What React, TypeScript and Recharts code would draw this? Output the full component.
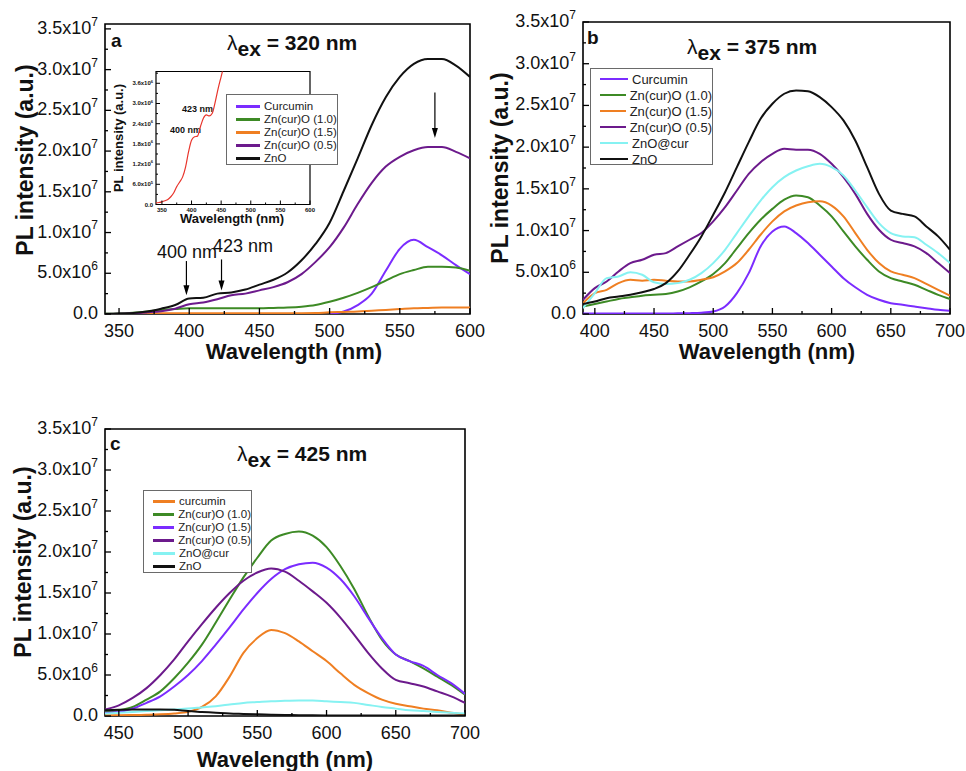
import React from 'react';
import {LineChart, Line, XAxis, YAxis, Legend, ReferenceArea, ReferenceLine} from 'recharts';

const FONT = '"Liberation Sans", Arial, Helvetica, sans-serif';

// ---- panel a : excitation 320 nm ----
const wlA = [340, 350, 360, 370, 380, 390, 400, 410, 420, 430, 440, 450, 460, 470, 480, 490, 500, 510, 520, 530, 540, 550, 560, 570, 580, 590, 600];
const aCurcumin = [null, null, null, null, null, null, null, null, null, null, null, null, null, null, null, null,
  0, 0.3e6, 1.1e6, 2.5e6, 5.3e6, 8.0e6, 9.1e6, 8.2e6, 7.2e6, 6.0e6, 4.9e6];
const aZn10 = [0.02e6, 0.05e6, 0.15e6, 0.3e6, 0.5e6, 0.6e6, 0.7e6, 0.7e6, 0.7e6, 0.7e6, 0.7e6, 0.7e6, 0.75e6, 0.8e6, 0.9e6, 1.1e6, 1.5e6, 2.0e6, 2.6e6, 3.3e6, 4.1e6, 4.9e6, 5.4e6, 5.8e6, 5.8e6, 5.7e6, 5.3e6];
const aZn15 = [0, 0, 0.02e6, 0.05e6, 0.08e6, 0.08e6, 0.1e6, 0.1e6, 0.1e6, 0.1e6, 0.1e6, 0.1e6, 0.1e6, 0.1e6, 0.1e6, 0.12e6, 0.2e6, 0.25e6, 0.3e6, 0.4e6, 0.5e6, 0.6e6, 0.7e6, 0.75e6, 0.8e6, 0.8e6, 0.8e6];
const aZn05 = [0, 0.02e6, 0.08e6, 0.2e6, 0.35e6, 0.65e6, 1.2e6, 1.4e6, 1.8e6, 2.3e6, 2.5e6, 2.9e6, 3.3e6, 3.9e6, 4.9e6, 6.4e6, 8.2e6, 10.6e6, 13.5e6, 16.1e6, 18.1e6, 19.3e6, 20.1e6, 20.5e6, 20.5e6, 19.9e6, 19.1e6];
const aZnO = [0.02e6, 0.05e6, 0.12e6, 0.3e6, 0.65e6, 1.1e6, 1.9e6, 2.0e6, 2.5e6, 2.65e6, 3.0e6, 3.6e6, 4.2e6, 5.1e6, 6.6e6, 8.6e6, 11.2e6, 15.1e6, 19.1e6, 23.2e6, 26.6e6, 29.1e6, 30.7e6, 31.3e6, 31.3e6, 30.5e6, 29.1e6];

// inset of panel a (ZnO, low wavelength)
const wlInset = [340, 345, 350, 355, 360, 365, 370, 375, 380, 385, 390, 395, 400, 405, 410, 415, 420, 425, 430, 435, 440, 445, 450, 455];
const insetZnO = [0.05e6, 0.06e6, 0.08e6, 0.11e6, 0.15e6, 0.23e6, 0.35e6, 0.53e6, 0.67e6, 0.82e6, 1.12e6, 1.57e6, 1.91e6, 2.01e6, 2.03e6, 2.31e6, 2.56e6, 2.66e6, 2.63e6, 2.71e6, 3.05e6, 3.45e6, 3.8e6, 4.15e6];

// ---- panel b : excitation 375 nm ----
const wlB = [390, 400, 410, 420, 430, 440, 450, 460, 470, 480, 490, 500, 510, 520, 530, 540, 550, 560, 570, 580, 590, 600, 610, 620, 630, 640, 650, 660, 670, 680, 690, 700];
const bCurcumin = [0.05e6, 0.05e6, 0.05e6, 0.05e6, 0.05e6, 0.05e6, 0.05e6, 0.05e6, 0.08e6, 0.1e6, 0.15e6, 0.3e6, 0.9e6, 2.5e6, 4.9e6, 8.1e6, 9.9e6, 10.5e6, 9.7e6, 8.5e6, 7.1e6, 5.7e6, 4.3e6, 3.2e6, 2.3e6, 1.7e6, 1.3e6, 1.1e6, 0.9e6, 0.7e6, 0.5e6, 0.4e6];
const bZn10 = [0.9e6, 1.2e6, 1.5e6, 1.8e6, 2.0e6, 2.2e6, 2.3e6, 2.4e6, 2.7e6, 3.2e6, 3.9e6, 4.8e6, 6.1e6, 7.9e6, 9.7e6, 11.3e6, 12.6e6, 13.7e6, 14.2e6, 14.0e6, 13.0e6, 11.7e6, 9.9e6, 8.1e6, 6.5e6, 5.1e6, 4.3e6, 3.9e6, 3.5e6, 2.9e6, 2.3e6, 1.8e6];
const bZn15 = [1.3e6, 2.5e6, 2.9e6, 3.7e6, 4.1e6, 4.0e6, 4.1e6, 4.0e6, 3.9e6, 3.9e6, 4.1e6, 4.4e6, 5.1e6, 6.1e6, 7.7e6, 9.5e6, 11.1e6, 12.3e6, 13.0e6, 13.4e6, 13.5e6, 13.0e6, 11.7e6, 9.7e6, 7.7e6, 6.1e6, 5.1e6, 4.7e6, 4.3e6, 3.6e6, 2.9e6, 2.2e6];
const bZn05 = [1.7e6, 3.1e6, 3.9e6, 5.1e6, 6.1e6, 6.5e6, 7.1e6, 7.3e6, 8.1e6, 8.9e6, 9.7e6, 11.1e6, 12.8e6, 14.8e6, 16.8e6, 18.2e6, 19.2e6, 19.8e6, 19.7e6, 19.7e6, 19.2e6, 18.0e6, 16.4e6, 14.4e6, 12.0e6, 10.1e6, 8.9e6, 8.5e6, 8.1e6, 7.3e6, 6.1e6, 4.9e6];
const bZnOcur = [0.7e6, 2.5e6, 4.3e6, 4.5e6, 5.0e6, 4.7e6, 3.8e6, 3.6e6, 3.7e6, 4.1e6, 4.9e6, 6.1e6, 7.7e6, 9.7e6, 11.7e6, 13.6e6, 15.2e6, 16.4e6, 17.2e6, 17.7e6, 18.0e6, 17.6e6, 16.6e6, 14.8e6, 12.8e6, 10.9e6, 9.7e6, 9.3e6, 9.2e6, 8.3e6, 7.3e6, 6.1e6];
const bZnO = [1.2e6, 1.5e6, 1.9e6, 2.1e6, 2.3e6, 2.6e6, 3.0e6, 3.7e6, 5.1e6, 7.1e6, 9.3e6, 11.9e6, 14.6e6, 17.6e6, 20.6e6, 23.4e6, 25.2e6, 26.4e6, 26.8e6, 26.7e6, 26.0e6, 24.8e6, 23.2e6, 20.8e6, 17.6e6, 14.4e6, 12.4e6, 12.0e6, 11.7e6, 10.5e6, 9.3e6, 7.7e6];

// ---- panel c : excitation 425 nm ----
const wlC = [440, 450, 460, 470, 480, 490, 500, 510, 520, 530, 540, 550, 560, 570, 580, 590, 600, 610, 620, 630, 640, 650, 660, 670, 680, 690, 700];
const cCurcumin = [0.1e6, 0.1e6, 0.12e6, 0.15e6, 0.2e6, 0.3e6, 0.5e6, 1.1e6, 2.4e6, 4.8e6, 7.7e6, 9.5e6, 10.5e6, 10.1e6, 9.1e6, 7.9e6, 6.7e6, 5.2e6, 3.8e6, 2.8e6, 2.0e6, 1.5e6, 1.2e6, 0.9e6, 0.7e6, 0.4e6, 0.2e6];
const cZn10 = [0.5e6, 0.7e6, 1.1e6, 2.0e6, 3.0e6, 4.6e6, 6.5e6, 8.7e6, 11.4e6, 14.2e6, 16.9e6, 19.3e6, 21.4e6, 22.2e6, 22.5e6, 22.0e6, 20.6e6, 18.3e6, 15.5e6, 12.2e6, 9.3e6, 7.5e6, 6.7e6, 5.8e6, 4.8e6, 3.8e6, 2.6e6];
const cZn15 = [0.4e6, 0.5e6, 0.9e6, 1.6e6, 2.4e6, 3.6e6, 5.0e6, 6.7e6, 8.7e6, 10.8e6, 13.0e6, 15.0e6, 16.7e6, 17.9e6, 18.5e6, 18.7e6, 18.1e6, 16.7e6, 14.6e6, 12.0e6, 9.5e6, 7.5e6, 6.7e6, 6.1e6, 5.0e6, 4.0e6, 2.7e6];
const cZn05 = [0.8e6, 1.3e6, 2.2e6, 3.4e6, 5.0e6, 6.9e6, 9.1e6, 11.2e6, 13.2e6, 15.0e6, 16.5e6, 17.5e6, 18.0e6, 17.6e6, 16.5e6, 15.2e6, 13.8e6, 12.0e6, 9.9e6, 7.7e6, 5.8e6, 4.4e6, 4.0e6, 3.6e6, 3.0e6, 2.4e6, 1.6e6];
const cZnOcur = [0.3e6, 0.4e6, 0.5e6, 0.6e6, 0.7e6, 0.8e6, 0.9e6, 1.05e6, 1.2e6, 1.4e6, 1.6e6, 1.7e6, 1.8e6, 1.85e6, 1.9e6, 1.9e6, 1.8e6, 1.7e6, 1.6e6, 1.35e6, 1.1e6, 0.9e6, 0.7e6, 0.6e6, 0.5e6, 0.4e6, 0.3e6];
const cZnO = [0.7e6, 0.75e6, 0.8e6, 0.8e6, 0.8e6, 0.75e6, 0.6e6, 0.5e6, 0.4e6, 0.3e6, 0.25e6, 0.2e6, 0.15e6, 0.12e6, 0.1e6, 0.08e6, 0.06e6, 0.05e6, 0.05e6, 0.05e6, 0.05e6, 0.05e6, 0.05e6, 0.05e6, 0.05e6, 0.05e6, 0.05e6];

// ticks
const xTicksA = [350, 375, 400, 425, 450, 475, 500, 525, 550, 575, 600];
const xTicksB = [400, 425, 450, 475, 500, 525, 550, 575, 600, 625, 650, 675, 700];
const xTicksC = [450, 475, 500, 525, 550, 575, 600, 625, 650, 675, 700];
const yTicksMain = [0, 2.5e6, 5e6, 7.5e6, 10e6, 12.5e6, 15e6, 17.5e6, 20e6, 22.5e6, 25e6, 27.5e6, 30e6, 32.5e6, 35e6];
const xTicksInset = [350, 375, 400, 425, 450, 475, 500, 525, 550, 575, 600];
const yTicksInset = [0, 0.3e6, 0.6e6, 0.9e6, 1.2e6, 1.5e6, 1.8e6, 2.1e6, 2.4e6, 2.7e6, 3.0e6, 3.3e6, 3.6e6, 3.9e6];

const VIOLET = '#7b2cff';
const GREEN = '#3d8a25';
const ORANGE = '#ef7f22';
const PURPLE = '#6c1a8c';
const CYAN = '#86f2f2';
const BLACK = '#111';
const RED = '#e8352c';

type Series = {key: string; name: string; color: string};

const seriesA: Series[] = [
  {key: 'cur', name: 'Curcumin', color: VIOLET},
  {key: 'z10', name: 'Zn(cur)O (1.0)', color: GREEN},
  {key: 'z15', name: 'Zn(cur)O (1.5)', color: ORANGE},
  {key: 'z05', name: 'Zn(cur)O (0.5)', color: PURPLE},
  {key: 'zno', name: 'ZnO', color: BLACK},
];
const seriesB: Series[] = [
  {key: 'cur', name: 'Curcumin', color: VIOLET},
  {key: 'z10', name: 'Zn(cur)O (1.0)', color: GREEN},
  {key: 'z15', name: 'Zn(cur)O (1.5)', color: ORANGE},
  {key: 'z05', name: 'Zn(cur)O (0.5)', color: PURPLE},
  {key: 'zoc', name: 'ZnO@cur', color: CYAN},
  {key: 'zno', name: 'ZnO', color: BLACK},
];
const seriesC: Series[] = [
  {key: 'cur', name: 'curcumin', color: ORANGE},
  {key: 'z10', name: 'Zn(cur)O (1.0)', color: GREEN},
  {key: 'z15', name: 'Zn(cur)O (1.5)', color: VIOLET},
  {key: 'z05', name: 'Zn(cur)O (0.5)', color: PURPLE},
  {key: 'zoc', name: 'ZnO@cur', color: CYAN},
  {key: 'zno', name: 'ZnO', color: BLACK},
];
const seriesInset: Series[] = [{key: 'zno', name: 'ZnO', color: RED}];

const rows = (wl: number[], cols: Record<string, (number | null)[]>) =>
  wl.map((w, i) => {
    const r: Record<string, number | null> = {wl: w};
    Object.keys(cols).forEach(k => { r[k] = cols[k][i]; });
    return r;
  });

const dataA = rows(wlA, {cur: aCurcumin, z10: aZn10, z15: aZn15, z05: aZn05, zno: aZnO});
const dataB = rows(wlB, {cur: bCurcumin, z10: bZn10, z15: bZn15, z05: bZn05, zoc: bZnOcur, zno: bZnO});
const dataC = rows(wlC, {cur: cCurcumin, z10: cZn10, z15: cZn15, z05: cZn05, zoc: cZnOcur, zno: cZnO});
const dataInset = rows(wlInset, {zno: insetZnO});

type TickOpt = {step: number; len: number; font: number; gap: number; bold?: boolean; sup?: number; lift?: number; width?: number};

const isMajor = (v: number, step: number) => Math.abs(v / step - Math.round(v / step)) < 1e-6;

const makeXTick = (o: TickOpt) => (t: any) => {
  const v = t.payload.value;
  const major = isMajor(v, o.step);
  return (
    <g>
      <line x1={t.x} x2={t.x} y1={t.y} y2={t.y - (major ? o.len : o.len / 2)} stroke="#000" strokeWidth={o.width ?? 1.3} />
      {major && (
        <text x={t.x} y={t.y + o.gap} textAnchor="middle" fontFamily={FONT} fontSize={o.font}
              fontWeight={o.bold ? 'bold' : 'normal'} fill="#111">{v}</text>
      )}
    </g>
  );
};

const makeYTick = (o: TickOpt) => (t: any) => {
  const v = t.payload.value;
  const major = isMajor(v, o.step);
  let mant = '0.0';
  let exp = '';
  if (v > 0) {
    const e = Math.floor(Math.log10(v) + 1e-9);
    mant = (v / Math.pow(10, e)).toFixed(1) + 'x10';
    exp = String(e);
  }
  const sup = o.sup ?? o.font * 0.62;
  return (
    <g>
      <line x1={t.x} x2={t.x + (major ? o.len : o.len / 2)} y1={t.y} y2={t.y} stroke="#000" strokeWidth={o.width ?? 1.3} />
      {major && (
        <text x={t.x - o.gap} y={t.y + (o.lift ?? 5)} textAnchor="end" fontFamily={FONT} fontSize={o.font}
              fontWeight={o.bold ? 'bold' : 'normal'} fill="#111">
          {mant}
          {exp && <tspan dy={-o.font * 0.45} fontSize={sup}>{exp}</tspan>}
        </text>
      )}
    </g>
  );
};

type LegendOpt = {left: number; top: number; width: number; height: number; font: number; row: number; pad: number; swatch: number; thick: number};

const legendBox = (items: Series[], o: LegendOpt) => () => (
  <div style={{width: o.width, height: o.height, boxSizing: 'border-box', border: '1px solid #6a6a6a', background: '#fff',
               padding: `${o.pad}px 0 0 9px`, fontFamily: FONT, fontSize: o.font, color: '#222', lineHeight: 1}}>
    {items.map(s => (
      <div key={s.key} style={{display: 'flex', alignItems: 'center', height: o.row, whiteSpace: 'nowrap'}}>
        <span style={{display: 'inline-block', width: o.swatch, height: o.thick, background: s.color, marginRight: 4}} />
        <span>{s.name}</span>
      </div>
    ))}
  </div>
);

const ExTitle = ({x, y, nm}: {x: number; y: number; nm: string}) => (
  <text x={x} y={y} fontFamily={FONT} fontSize={21} fontWeight="bold" fill="#111">
    <tspan fontWeight="normal">λ</tspan>
    <tspan dy={6}>ex</tspan>
    <tspan dy={-6}>{' = ' + nm + ' nm'}</tspan>
  </text>
);

const YTitle = ({x, y, size}: {x: number; y: number; size: number}) => (
  <text x={x} y={y} transform={`rotate(-90 ${x} ${y})`} textAnchor="middle" fontFamily={FONT} fontSize={size}
        fontWeight="bold" fill="#111">PL intensity (a.u.)</text>
);

const XTitle = ({x, y, size}: {x: number; y: number; size: number}) => (
  <text x={x} y={y} textAnchor="middle" fontFamily={FONT} fontSize={size} fontWeight="bold" fill="#111">Wavelength (nm)</text>
);

const arrowShape = (p: any) => {
  const {x1, y1, x2, y2} = p;
  return (
    <g>
      <line x1={x1} y1={y1} x2={x2} y2={y2 - 4} stroke="#000" strokeWidth={1.2} />
      <path d={`M${x2 - 3},${y2 - 10} L${x2},${y2} L${x2 + 3},${y2 - 10} Z`} fill="#000" />
    </g>
  );
};

type PanelProps = {
  left: number; top: number; width: number; height: number; z?: number;
  margin: {top: number; right: number; bottom: number; left: number};
  yWidth: number; xHeight: number;
  data: Record<string, number | null>[]; series: Series[]; strokeWidth: number;
  xDomain: [number, number]; yDomain: [number, number];
  xTicks: number[]; yTicks: number[];
  xTick: (t: any) => React.ReactElement; yTick: (t: any) => React.ReactElement;
  frame: number;
  legend?: LegendOpt;
  children?: React.ReactNode;
};

const Panel = (p: PanelProps) => (
  <div style={{position: 'absolute', left: p.left, top: p.top, zIndex: p.z ?? 1}}>
    <LineChart width={p.width} height={p.height} data={p.data} margin={p.margin}>
      <XAxis dataKey="wl" type="number" domain={p.xDomain} ticks={p.xTicks} interval={0} allowDataOverflow
             height={p.xHeight} tickSize={0} tickMargin={0} tickLine={false} axisLine={false} tick={p.xTick} />
      <YAxis type="number" domain={p.yDomain} ticks={p.yTicks} interval={0} allowDataOverflow
             width={p.yWidth} tickSize={0} tickMargin={0} tickLine={false} axisLine={false} tick={p.yTick} />
      <ReferenceArea x1={p.xDomain[0]} x2={p.xDomain[1]} y1={p.yDomain[0]} y2={p.yDomain[1]}
                     fill="none" stroke="#000" strokeWidth={p.frame} ifOverflow="visible" />
      {p.series.map(s => (
        <Line key={s.key} type="monotone" dataKey={s.key} name={s.name} stroke={s.color} strokeWidth={p.strokeWidth}
              dot={false} activeDot={false} isAnimationActive={false} />
      ))}
      {p.legend && (
        <Legend layout="horizontal" align="center" verticalAlign="middle"
                wrapperStyle={{left: p.legend.left, top: p.legend.top, width: 'auto', height: 'auto'}}
                content={legendBox(p.series, p.legend)} />
      )}
      {p.children}
    </LineChart>
  </div>
);

const mainX = makeXTick({step: 50, len: 6, font: 18, gap: 23});
const mainY = makeYTick({step: 5e6, len: 6, font: 18, gap: 7, sup: 12});

export default function App() {
  return (
    <div style={{position: 'absolute', left: 0, top: 0, width: 966, height: 771, background: '#fff'}}>
      {/* inset of panel a */}
      <Panel left={100} top={60} width={220} height={175} z={1}
             margin={{top: 11.5, right: 10, bottom: 5.5, left: 16}} yWidth={40} xHeight={25}
             data={dataInset} series={seriesInset} strokeWidth={1.2}
             xDomain={[340, 600]} yDomain={[0, 3.95e6]} xTicks={xTicksInset} yTicks={yTicksInset}
             xTick={makeXTick({step: 50, len: 4, font: 6, gap: 7, bold: true, width: 1})}
             yTick={makeYTick({step: 0.6e6, len: 4, font: 6, gap: 3, bold: true, sup: 4, lift: 2, width: 1})}
             frame={1.2}>
        <text x={82} y={52} fontFamily={FONT} fontSize={9} fontWeight="bold" fill="#111">423 nm</text>
        <text x={70} y={73} fontFamily={FONT} fontSize={9} fontWeight="bold" fill="#111">400 nm</text>
        <YTitle x={23} y={78} size={13} />
        <XTitle x={132} y={163} size={13} />
      </Panel>

      {/* panel a */}
      <Panel left={0} top={0} width={492} height={380} z={2}
             margin={{top: 24, right: 22, bottom: 16, left: 5}} yWidth={100} xHeight={50}
             data={dataA} series={seriesA} strokeWidth={2}
             xDomain={[340, 600]} yDomain={[0, 3.56e7]} xTicks={xTicksA} yTicks={yTicksMain}
             xTick={mainX} yTick={mainY} frame={1.6}
             legend={{left: 226, top: 94, width: 112, height: 71, font: 11.5, row: 13, pad: 5, swatch: 24, thick: 3}}>
        <ReferenceLine segment={[{x: 398, y: 6.5e6}, {x: 398, y: 2.3e6}]} stroke="#000" shape={arrowShape} ifOverflow="visible" />
        <ReferenceLine segment={[{x: 423, y: 6.7e6}, {x: 423, y: 2.9e6}]} stroke="#000" shape={arrowShape} ifOverflow="visible" />
        <ReferenceLine segment={[{x: 575, y: 27.2e6}, {x: 575, y: 21.6e6}]} stroke="#000" shape={arrowShape} ifOverflow="visible" />
        <text x={157} y={258} fontFamily={FONT} fontSize={18} fill="#111">400 nm</text>
        <text x={213} y={252} fontFamily={FONT} fontSize={18} fill="#111">423 nm</text>
        <text x={111} y={47} fontFamily={FONT} fontSize={19} fontWeight="bold" fill="#111">a</text>
        <ExTitle x={227} y={50} nm="320" />
        <YTitle x={33} y={160} size={23} />
        <XTitle x={294} y={359} size={22} />
      </Panel>

      {/* panel b */}
      <Panel left={480} top={0} width={486} height={380}
             margin={{top: 22, right: 16, bottom: 16, left: 3}} yWidth={100} xHeight={50}
             data={dataB} series={seriesB} strokeWidth={2}
             xDomain={[390, 700]} yDomain={[0, 3.5e7]} xTicks={xTicksB} yTicks={yTicksMain}
             xTick={mainX} yTick={mainY} frame={1.6}
             legend={{left: 110, top: 68, width: 123, height: 97, font: 13, row: 16, pad: 2, swatch: 28, thick: 2}}>
        <text x={107} y={44} fontFamily={FONT} fontSize={19} fontWeight="bold" fill="#111">b</text>
        <ExTitle x={207} y={54} nm="375" />
        <YTitle x={28} y={168} size={23} />
        <XTitle x={287} y={359} size={22} />
      </Panel>

      {/* panel c */}
      <Panel left={0} top={400} width={480} height={371}
             margin={{top: 29, right: 15, bottom: 5, left: 5}} yWidth={100} xHeight={50}
             data={dataC} series={seriesC} strokeWidth={2}
             xDomain={[440, 700]} yDomain={[0, 3.5e7]} xTicks={xTicksC} yTicks={yTicksMain}
             xTick={mainX} yTick={mainY} frame={1.6}
             legend={{left: 143, top: 90, width: 109, height: 83, font: 11.5, row: 13, pad: 4, swatch: 22, thick: 3}}>
        <text x={110} y={50} fontFamily={FONT} fontSize={19} fontWeight="bold" fill="#111">c</text>
        <ExTitle x={237} y={61} nm="425" />
        <YTitle x={31} y={162} size={23} />
        <XTitle x={285} y={367} size={22} />
      </Panel>
    </div>
  );
}
